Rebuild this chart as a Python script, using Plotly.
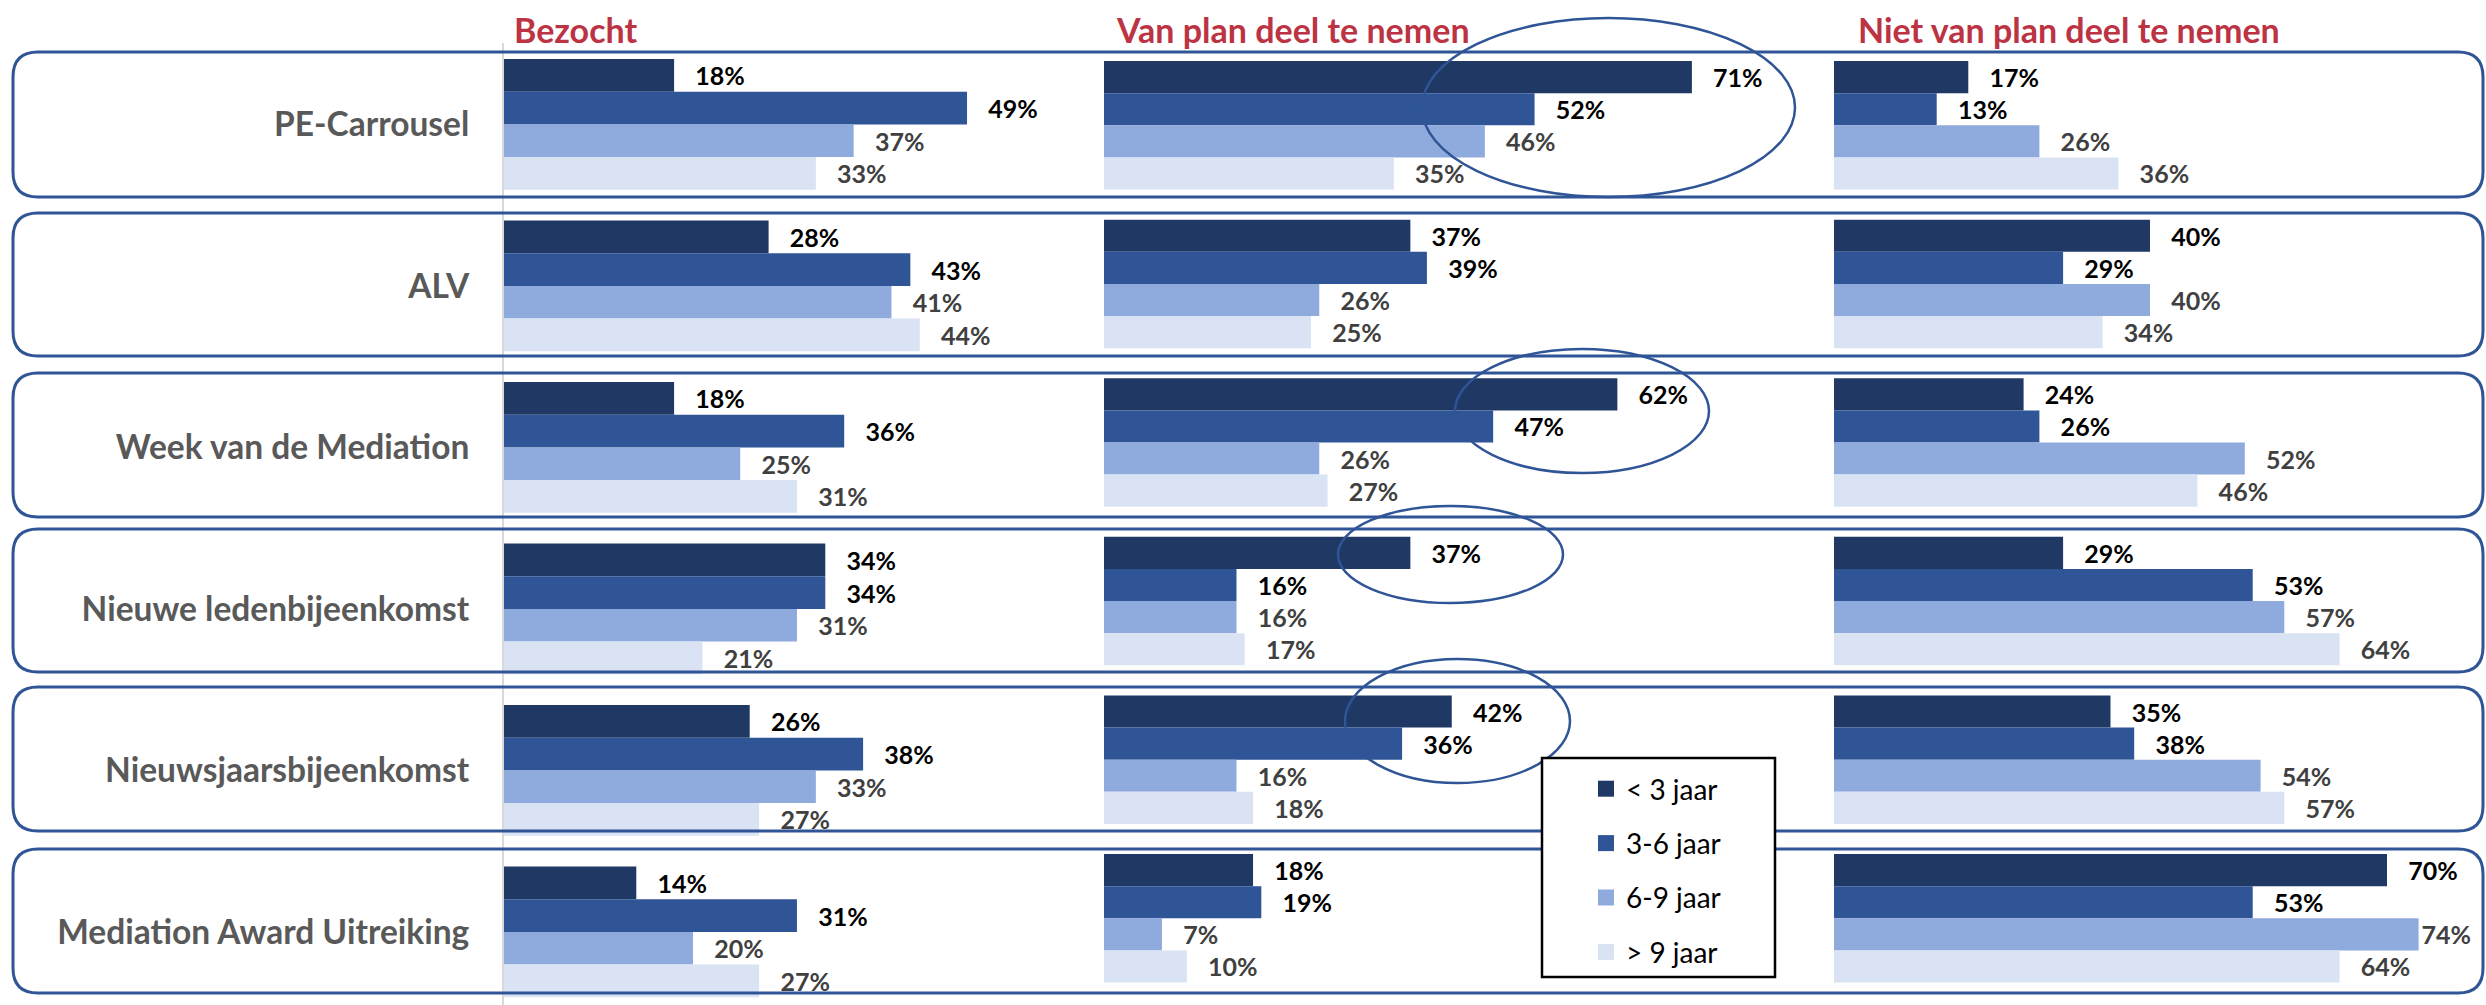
import plotly.graph_objects as go

W, H = 2486, 1005

# ---------------- data ----------------
events = ["PE-Carrousel", "ALV", "Week van de Mediation", "Nieuwe ledenbijeenkomst",
          "Nieuwsjaarsbijeenkomst", "Mediation Award Uitreiking"]
groups = ["< 3 jaar", "3-6 jaar", "6-9 jaar", "> 9 jaar"]
panel_titles = ["Bezocht", "Van plan deel te nemen", "Niet van plan deel te nemen"]

bezocht_lt3 = [18, 28, 18, 34, 26, 14]
bezocht_3_6 = [49, 43, 36, 34, 38, 31]
bezocht_6_9 = [37, 41, 25, 31, 33, 20]
bezocht_gt9 = [33, 44, 31, 21, 27, 27]

plan_lt3 = [71, 37, 62, 37, 42, 18]
plan_3_6 = [52, 39, 47, 16, 36, 19]
plan_6_9 = [46, 26, 26, 16, 16, 7]
plan_gt9 = [35, 25, 27, 17, 18, 10]

niet_lt3 = [17, 40, 24, 29, 35, 70]
niet_3_6 = [13, 29, 26, 53, 38, 53]
niet_6_9 = [26, 40, 52, 57, 54, 74]
niet_gt9 = [36, 34, 46, 64, 57, 64]

panels = [
    [bezocht_lt3, bezocht_3_6, bezocht_6_9, bezocht_gt9],
    [plan_lt3, plan_3_6, plan_6_9, plan_gt9],
    [niet_lt3, niet_3_6, niet_6_9, niet_gt9],
]

# ---------------- styling ----------------
colors = ["#203864", "#2F5597", "#8FAADC", "#DAE3F3"]
label_colors = ["#000000", "#000000", "#404040", "#404040"]
box_color = "#2F5597"
title_color = "#BC3344"
FONT = "Lato"


def px(x):
    return x / W


def py(y):
    return 1 - y / H


# panel x-domains (px) and x-ranges (percent)
x_dom_px = [(504, 1100), (1104, 1830), (1834, W)]
x_ranges = [596 / 9.45, 726 / 8.28, 652 / 7.9]

fig = go.Figure()

axes = [("x", "y"), ("x2", "y2"), ("x3", "y2")]
PAD = "\u00a0\u00a0\u00a0"
for p, series in enumerate(panels):
    xa, ya = axes[p]
    rng = x_ranges[p]
    for i, vals in enumerate(series):
        # labels that would run past the panel edge lose their padding (as in the original)
        tmpl = [("%{x}%" if v / rng > 0.88 else PAD + "%{x}%") for v in vals]
        fig.add_trace(go.Bar(
            x=vals, y=events, orientation="h", name=groups[i],
            xaxis=xa, yaxis=ya,
            marker=dict(color=colors[i], line=dict(width=0)),
            texttemplate=tmpl, textposition="outside",
            constraintext="none", cliponaxis=False,
            textfont=dict(family=FONT, size=25, color=label_colors[i], weight="bold"),
            showlegend=False, hoverinfo="skip",
        ))

# legend entries
for i, g in enumerate(groups):
    fig.add_trace(go.Scatter(
        x=[None], y=[None], mode="markers", name=g, legendgroup=g,
        marker=dict(symbol="square", size=16, color=colors[i]),
        showlegend=True, hoverinfo="skip",
    ))

top_px = 43
ydom = [0, 1 - top_px / H]
# panel 1 rows: centre 124.4 + k*161.5 ; panels 2-3: 125.3 + k*158.6
y1_range = [(H - 124.4) / 161.5, (top_px - 124.4) / 161.5]
y2_range = [(H - 125.3) / 158.6, (top_px - 125.3) / 158.6]

fig.update_layout(
    width=W, height=H, autosize=False,
    margin=dict(l=0, r=0, t=0, b=0),
    paper_bgcolor="white", plot_bgcolor="rgba(0,0,0,0)",
    barmode="group", bargap=0.19, bargroupgap=0,
    font=dict(family=FONT),
    xaxis=dict(domain=[px(x_dom_px[0][0]), px(x_dom_px[0][1])], range=[0, x_ranges[0]],
               visible=False, anchor="y"),
    xaxis2=dict(domain=[px(x_dom_px[1][0]), px(x_dom_px[1][1])], range=[0, x_ranges[1]],
                visible=False, anchor="y2"),
    xaxis3=dict(domain=[px(x_dom_px[2][0]), px(x_dom_px[2][1])], range=[0, x_ranges[2]],
                visible=False, anchor="y2"),
    yaxis=dict(domain=ydom, range=y1_range, type="category",
               categoryorder="array", categoryarray=events, anchor="x",
               showline=True, linecolor="#D9D9D9", linewidth=2, layer="below traces",
               showgrid=False, zeroline=False, ticks="", ticklabelstandoff=26,
               tickfont=dict(family=FONT, size=33.5, color="#595959", weight="bold")),
    yaxis2=dict(domain=ydom, range=y2_range, type="category",
                categoryorder="array", categoryarray=events, anchor="x2",
                visible=False),
    legend=dict(x=px(1586), y=py(764), xanchor="left", yanchor="top",
                bgcolor="rgba(0,0,0,0)", borderwidth=0,
                font=dict(family=FONT, size=28, color="#000000"),
                tracegroupgap=15, itemsizing="trace", traceorder="grouped"),
)

# column titles
title_x = [512, 1114, 1856]
for t, x in zip(panel_titles, title_x):
    fig.add_annotation(text=t, x=px(x), y=py(29), xref="paper", yref="paper",
                       xanchor="left", yanchor="middle", showarrow=False,
                       font=dict(family=FONT, size=34, color=title_color, weight="bold"))


def rounded(x0, y0, x1, y1, r):
    return (f"M {px(x0 + r)},{py(y0)} L {px(x1 - r)},{py(y0)} "
            f"Q {px(x1)},{py(y0)} {px(x1)},{py(y0 + r)} L {px(x1)},{py(y1 - r)} "
            f"Q {px(x1)},{py(y1)} {px(x1 - r)},{py(y1)} L {px(x0 + r)},{py(y1)} "
            f"Q {px(x0)},{py(y1)} {px(x0)},{py(y1 - r)} L {px(x0)},{py(y0 + r)} "
            f"Q {px(x0)},{py(y0)} {px(x0 + r)},{py(y0)} Z")


row_boxes = [(52, 197), (213, 356), (373, 517), (529, 672), (687, 831), (849, 993)]
for y0, y1 in row_boxes:
    fig.add_shape(type="path", path=rounded(13, y0, 2483, y1, 25),
                  xref="paper", yref="paper", layer="above",
                  line=dict(color=box_color, width=3))

ellipses = [(1422, 18, 1795, 197), (1455, 349, 1709, 473),
            (1338, 506, 1563, 603), (1345, 659, 1570, 783)]
for x0, y0, x1, y1 in ellipses:
    fig.add_shape(type="circle", xref="paper", yref="paper", layer="above",
                  x0=px(x0), x1=px(x1), y0=py(y1), y1=py(y0),
                  line=dict(color=box_color, width=2.5))

# legend frame
fig.add_shape(type="rect", xref="paper", yref="paper", layer="above",
              x0=px(1542), x1=px(1775), y0=py(977), y1=py(758),
              fillcolor="white", line=dict(color="black", width=2.5))

fig.write_html("out.html", config={"displayModeBar": False},
               post_script="document.body.style.margin='0';document.body.style.overflow='hidden';")
